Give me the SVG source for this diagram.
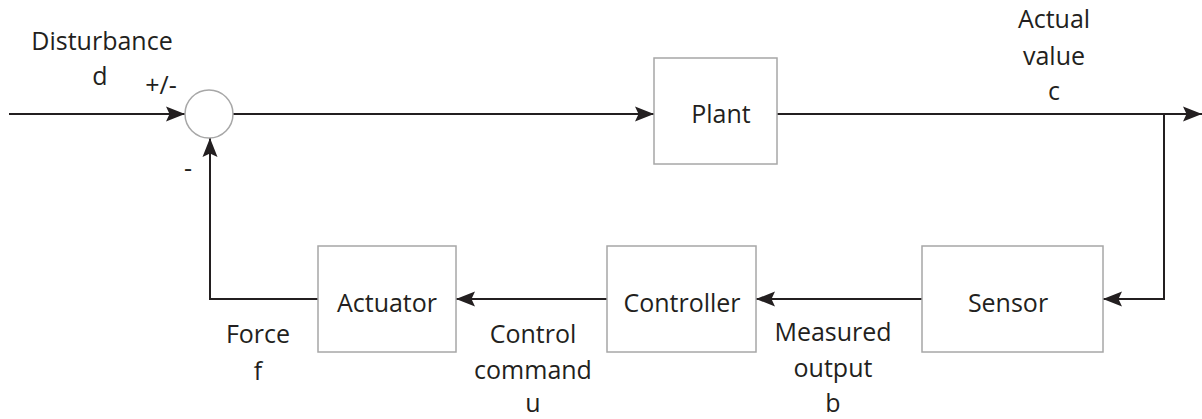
<svg xmlns="http://www.w3.org/2000/svg" width="1202" height="419" viewBox="0 0 1202 419">
  <style>
    .box { fill: #ffffff; stroke: #a7a7a7; stroke-width: 1.5; }
    .wire { fill: none; stroke: #231f20; stroke-width: 2; }
    text { font-family: "Open Sans", "DejaVu Sans", sans-serif; font-size: 25px; fill: #231f20; text-anchor: middle; }
  </style>
  <defs>
    <marker id="arrow" markerUnits="userSpaceOnUse" viewBox="0 0 19 16" refX="19" refY="8" markerWidth="19" markerHeight="16" orient="auto">
      <path d="M0,0.5 L19,8 L0,15.5 L3.5,8 z" fill="#231f20"/>
    </marker>
  </defs>
  <rect width="1202" height="419" fill="#ffffff"/>

  <!-- connectors -->
  <g id="connectors">
    <line class="wire" x1="9" y1="114" x2="185" y2="114" marker-end="url(#arrow)"/>
    <line class="wire" x1="233" y1="114" x2="654" y2="114" marker-end="url(#arrow)"/>
    <line class="wire" x1="777" y1="114" x2="1202" y2="114" marker-end="url(#arrow)"/>
    <polyline class="wire" points="1164,114 1164,299 1103,299" marker-end="url(#arrow)"/>
    <line class="wire" x1="922" y1="299" x2="756" y2="299" marker-end="url(#arrow)"/>
    <line class="wire" x1="607" y1="299" x2="456" y2="299" marker-end="url(#arrow)"/>
    <polyline class="wire" points="318,299 210,299 210,138" marker-end="url(#arrow)"/>
  </g>

  <!-- summing junction -->
  <g id="sum">
    <circle cx="209" cy="114" r="24" fill="#ffffff" stroke="#a7a7a7" stroke-width="1.5"/>
    <text x="161" y="94">+/-</text>
    <text x="188" y="177">-</text>
  </g>

  <g id="plant">
    <rect class="box" x="654" y="58" width="123" height="106"/>
    <text x="721" y="123">Plant</text>
  </g>

  <g id="sensor">
    <rect class="box" x="922" y="246" width="181" height="106"/>
    <text x="1008" y="312">Sensor</text>
  </g>

  <g id="controller">
    <rect class="box" x="607" y="246" width="149" height="106"/>
    <text x="682" y="312">Controller</text>
  </g>

  <g id="actuator">
    <rect class="box" x="318" y="246" width="138" height="106"/>
    <text x="387" y="312">Actuator</text>
  </g>

  <!-- signal labels -->
  <g id="labels">
    <text x="102" y="50">Disturbance</text>
    <text x="100" y="85">d</text>
    <text x="1054" y="28">Actual</text>
    <text x="1054" y="65">value</text>
    <text x="1054" y="100">c</text>
    <text x="258" y="343">Force</text>
    <text x="258" y="380">f</text>
    <text x="533" y="343">Control</text>
    <text x="533" y="379">command</text>
    <text x="533" y="412">u</text>
    <text x="833" y="341">Measured</text>
    <text x="833" y="377">output</text>
    <text x="833" y="412">b</text>
  </g>
</svg>
